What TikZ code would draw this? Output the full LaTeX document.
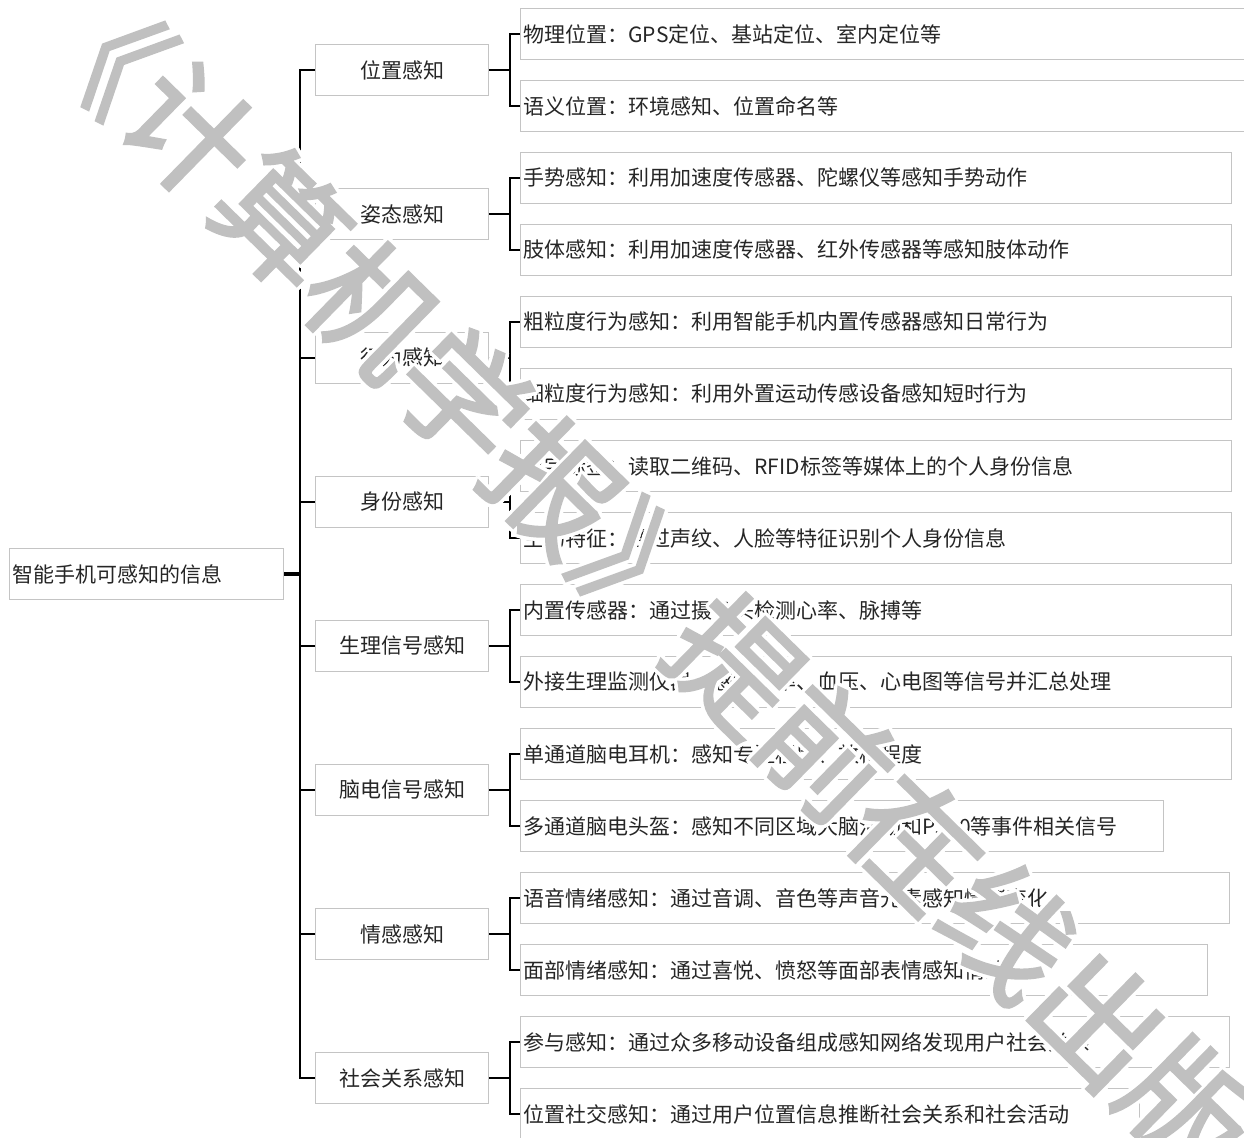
\documentclass[tikz,border=0pt]{standalone}
\usepackage{fontspec}
\setmainfont{Noto Sans CJK SC}
\newfontfamily\wmfont[FakeBold=2]{Noto Sans CJK SC}
\usetikzlibrary{calc}
\definecolor{boxgray}{HTML}{C4C4C4}
\definecolor{txt}{HTML}{262626}
\definecolor{wm}{HTML}{C0C0C0}
\begin{document}
\begin{tikzpicture}[x=1pt,y=-1pt,
  box/.style={draw=boxgray, line width=1pt, minimum height=51pt, inner xsep=3pt, inner ysep=0pt,
    font=\fontsize{21}{25}\selectfont, text=txt},
  leaf/.style={box, anchor=west, align=left},
  cat/.style={box, anchor=west, minimum width=173pt, align=center},
  conn/.style={line width=2.4pt, black},
  wmstyle/.style={rotate=-44.4, inner sep=0pt, font=\wmfont\fontsize{127}{127}\selectfont},
]
\useasboundingbox[fill=white] (0,0) rectangle (1244,1137);

% root
\node[box, anchor=west, text width=268pt, align=left] (root) at (9,574) {智能手机可感知的信息};

% categories
\node[cat] (c1) at (315,70)   {位置感知};
\node[cat] (c2) at (315,214)  {姿态感知};
\node[cat] (c3) at (315,358)  {行为感知};
\node[cat] (c4) at (315,502)  {身份感知};
\node[cat] (c5) at (315,646)  {生理信号感知};
\node[cat] (c6) at (315,790)  {脑电信号感知};
\node[cat] (c7) at (315,934)  {情感感知};
\node[cat] (c8) at (315,1078) {社会关系感知};

% leaves
\node[leaf, text width=734pt] (l1)  at (520,34)   {物理位置：GPS定位、基站定位、室内定位等};
\node[leaf, text width=734pt] (l2)  at (520,106)  {语义位置：环境感知、位置命名等};
\node[leaf, text width=705pt] (l3)  at (520,178)  {手势感知：利用加速度传感器、陀螺仪等感知手势动作};
\node[leaf, text width=705pt] (l4)  at (520,250)  {肢体感知：利用加速度传感器、红外传感器等感知肢体动作};
\node[leaf, text width=705pt] (l5)  at (520,322)  {粗粒度行为感知：利用智能手机内置传感器感知日常行为};
\node[leaf, text width=705pt] (l6)  at (520,394)  {细粒度行为感知：利用外置运动传感设备感知短时行为};
\node[leaf, text width=705pt] (l7)  at (520,466)  {数字标签：读取二维码、RFID标签等媒体上的个人身份信息};
\node[leaf, text width=705pt] (l8)  at (520,538)  {生物特征：通过声纹、人脸等特征识别个人身份信息};
\node[leaf, text width=705pt] (l9)  at (520,610)  {内置传感器：通过摄像头检测心率、脉搏等};
\node[leaf, text width=705pt] (l10) at (520,682)  {外接生理监测仪器：感知心率、血压、心电图等信号并汇总处理};
\node[leaf, text width=705pt] (l11) at (520,754)  {单通道脑电耳机：感知专注程度、放松程度};
\node[leaf, text width=637pt] (l12) at (520,826)  {多通道脑电头盔：感知不同区域大脑活动和P300等事件相关信号};
\node[leaf, text width=703pt] (l13) at (520,898)  {语音情绪感知：通过音调、音色等声音元素感知情绪变化};
\node[leaf, text width=681pt] (l14) at (520,970)  {面部情绪感知：通过喜悦、愤怒等面部表情感知情绪};
\node[leaf, text width=703pt] (l15) at (520,1042) {参与感知：通过众多移动设备组成感知网络发现用户社会关系};
\node[leaf, text width=613pt] (l16) at (520,1114) {位置社交感知：通过用户位置信息推断社会关系和社会活动};

% trunk
\coordinate (t) at (300,574);
\draw[line width=4pt] (root.east) -- (t);
\draw[conn] (c1.west) -| (t) |- (c8.west);
\foreach \c in {c2,c3,c4,c5,c6,c7} \draw[conn] (\c.west) -- (\c.west -| t);

% branches
\foreach \c/\a/\b in {c1/l1/l2, c2/l3/l4, c3/l5/l6, c4/l7/l8, c5/l9/l10, c6/l11/l12, c7/l13/l14, c8/l15/l16}{
  \path (\c.east) ++(21,0) coordinate (j\c);
  \draw[conn] (\c.east) -- (j\c);
  \draw[conn] (\a.west) -| (j\c) |- (\b.west);
}

% watermark
\foreach \ang in {0,30,...,330}
  \node[wmstyle, text=white] (wmh\ang) at ($(645,575)+(\ang:3.5)$) {《计算机学报》提前在线出版};
\node[wmstyle, text=wm] (wm) at (645,575) {《计算机学报》提前在线出版};
\end{tikzpicture}
\end{document}
